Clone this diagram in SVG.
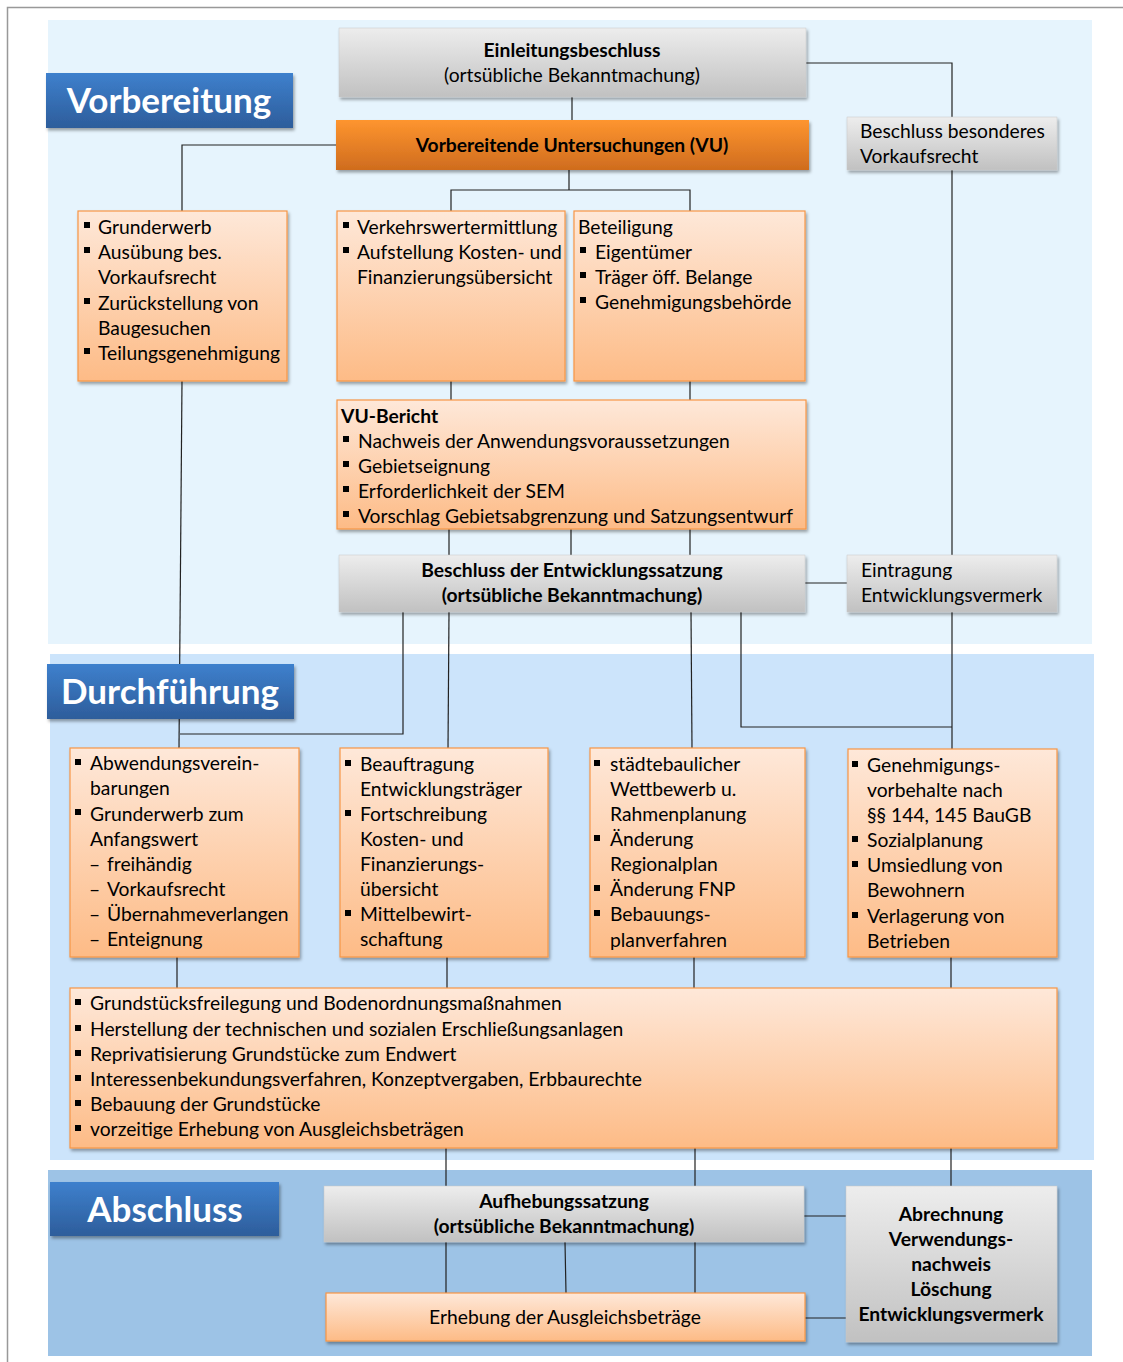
<svg xmlns="http://www.w3.org/2000/svg" width="1123" height="1362" viewBox="0 0 1123 1362">
<defs>
<linearGradient id="gGray" x1="0" y1="0" x2="0" y2="1"><stop offset="0" stop-color="#ededed"/><stop offset="1" stop-color="#c1c1c1"/></linearGradient>
<linearGradient id="gPeach" x1="0" y1="0" x2="0" y2="1"><stop offset="0" stop-color="#fee8d9"/><stop offset="1" stop-color="#fdbb86"/></linearGradient>
<linearGradient id="gOrange" x1="0" y1="0" x2="0" y2="1"><stop offset="0" stop-color="#fe952f"/><stop offset="1" stop-color="#cf6c1e"/></linearGradient>
<linearGradient id="gBlue" x1="0" y1="0" x2="0" y2="1"><stop offset="0" stop-color="#3e80cd"/><stop offset="1" stop-color="#2d5d9b"/></linearGradient>
<filter id="sh" x="-5%" y="-10%" width="112%" height="125%"><feDropShadow dx="1.5" dy="2.5" stdDeviation="1.5" flood-color="#000" flood-opacity="0.35"/></filter>
<rect id="b" width="6" height="6" fill="#000"/>
</defs>
<style>
.t{font-family:Lato,"Liberation Sans",sans-serif;font-size:19.3px;fill:#000}
.bd{font-weight:bold}
.c{text-anchor:middle}
.title{font-family:Lato,"Liberation Sans",sans-serif;font-size:35px;font-weight:bold;fill:#fff;text-anchor:middle}
.gray{fill:url(#gGray);stroke:#c8c8c8;stroke-width:0.5;filter:url(#sh)}
.peach{fill:url(#gPeach);stroke:#f79646;stroke-width:1.2;filter:url(#sh)}
.orange{fill:url(#gOrange);filter:url(#sh)}
.blue{fill:url(#gBlue);filter:url(#sh)}
.ln{fill:none;stroke:#222;stroke-width:1.2}
</style>
<!-- frame -->
<path d="M7.5 1362 V7.5 H1123" fill="none" stroke="#999" stroke-width="1.5"/>
<!-- panels -->
<rect x="48" y="20" width="1044" height="624" fill="#e6f4fd"/>
<rect x="50" y="654" width="1044" height="506" fill="#cce4fb"/>
<rect x="48" y="1170" width="1044" height="186" fill="#9dc3e6"/>

<g id="connectors" class="ln">
<path d="M572 97 V120"/>
<path d="M806 63 H952 V117"/>
<path d="M952 170 V555"/>
<path d="M952 612 V749"/>
<path d="M741 612 V727 H952"/>
<path d="M336 145 H182 V211"/>
<path d="M182 381 L179 748"/>
<path d="M403 612 V734 H180"/>
<path d="M569 170 V190 M451 211 V190 H690 V211"/>
<path d="M451 381 V400 M690 381 V400"/>
<path d="M449 529 V555 M571 529 V555 M690 529 V555"/>
<path d="M449 612 L448 748"/>
<path d="M691 612 L692 748"/>
<path d="M805 583 H847"/>
<path d="M177 957 V988 M447 957 V988 M694 957 V988 M951 957 V988"/>
<path d="M446 1148 V1186 M695 1148 V1186 M951 1148 V1186"/>
<path d="M446 1242 V1293 M565 1242 L566 1293 M695 1242 V1293"/>
<path d="M804 1216 H846 M805 1318 H846"/>
</g>

<g id="title-vorbereitung"><rect class="blue" x="46" y="73" width="247" height="55"/><text class="title" x="169" y="113">Vorbereitung</text></g>
<g id="title-durchfuehrung"><rect class="blue" x="47" y="664" width="247" height="55"/><text class="title" x="170" y="704">Durchführung</text></g>
<g id="title-abschluss"><rect class="blue" x="50" y="1182" width="229" height="54"/><text class="title" x="165" y="1222">Abschluss</text></g>

<g id="einleitungsbeschluss"><rect class="gray" x="339" y="28" width="467" height="69"/>
<text class="t bd c" x="572" y="57">Einleitungsbeschluss</text>
<text class="t c" x="572" y="82">(ortsübliche Bekanntmachung)</text></g>

<g id="vu"><rect class="orange" x="336" y="120" width="473" height="50"/>
<text class="t bd c" x="572" y="152">Vorbereitende Untersuchungen (VU)</text></g>

<g id="beschluss-vorkaufsrecht"><rect class="gray" x="847" y="117" width="210" height="53"/>
<text class="t" x="860" y="138">Beschluss besonderes</text>
<text class="t" x="860" y="163">Vorkaufsrecht</text></g>

<g id="grunderwerb"><rect class="peach" x="78" y="211" width="209" height="170"/>
<use href="#b" x="84" y="222"/><use href="#b" x="84" y="247"/><use href="#b" x="84" y="298"/><use href="#b" x="84" y="348"/>
<text class="t" x="98" y="234">Grunderwerb</text>
<text class="t" x="98" y="259">Ausübung bes.</text>
<text class="t" x="98" y="284">Vorkaufsrecht</text>
<text class="t" x="98" y="310">Zurückstellung von</text>
<text class="t" x="98" y="335">Baugesuchen</text>
<text class="t" x="98" y="360">Teilungsgenehmigung</text></g>

<g id="verkehrswert"><rect class="peach" x="337" y="211" width="228" height="170"/>
<use href="#b" x="343" y="222"/><use href="#b" x="343" y="247"/>
<text class="t" x="357" y="234">Verkehrswertermittlung</text>
<text class="t" x="357" y="259">Aufstellung Kosten- und</text>
<text class="t" x="357" y="284">Finanzierungsübersicht</text></g>

<g id="beteiligung"><rect class="peach" x="574" y="211" width="231" height="170"/>
<text class="t" x="578" y="234">Beteiligung</text>
<use href="#b" x="580" y="247"/><use href="#b" x="580" y="272"/><use href="#b" x="580" y="297"/>
<text class="t" x="595" y="259">Eigentümer</text>
<text class="t" x="595" y="284">Träger öff. Belange</text>
<text class="t" x="595" y="309">Genehmigungsbehörde</text></g>

<g id="vu-bericht"><rect class="peach" x="337" y="400" width="469" height="129"/>
<text class="t bd" x="341" y="423">VU-Bericht</text>
<use href="#b" x="343" y="436"/><use href="#b" x="343" y="461"/><use href="#b" x="343" y="486"/><use href="#b" x="343" y="511"/>
<text class="t" x="358" y="448">Nachweis der Anwendungsvoraussetzungen</text>
<text class="t" x="358" y="473">Gebietseignung</text>
<text class="t" x="358" y="498">Erforderlichkeit der SEM</text>
<text class="t" x="358" y="523">Vorschlag Gebietsabgrenzung und Satzungsentwurf</text></g>

<g id="entwicklungssatzung"><rect class="gray" x="339" y="555" width="466" height="57"/>
<text class="t bd c" x="572" y="577">Beschluss der Entwicklungssatzung</text>
<text class="t bd c" x="572" y="602">(ortsübliche Bekanntmachung)</text></g>

<g id="eintragung"><rect class="gray" x="847" y="555" width="210" height="57"/>
<text class="t" x="861" y="577">Eintragung</text>
<text class="t" x="861" y="602">Entwicklungsvermerk</text></g>

<g id="abwendung"><rect class="peach" x="70" y="748" width="229" height="209"/>
<use href="#b" x="75" y="759"/><use href="#b" x="75" y="809"/>
<text class="t" x="90" y="770">Abwendungsverein-</text>
<text class="t" x="90" y="795">barungen</text>
<text class="t" x="90" y="821">Grunderwerb zum</text>
<text class="t" x="90" y="846">Anfangswert</text>
<text class="t" x="89" y="871">–</text><text class="t" x="107" y="871">freihändig</text>
<text class="t" x="89" y="896">–</text><text class="t" x="107" y="896">Vorkaufsrecht</text>
<text class="t" x="89" y="921">–</text><text class="t" x="107" y="921">Übernahmeverlangen</text>
<text class="t" x="89" y="946">–</text><text class="t" x="107" y="946">Enteignung</text></g>

<g id="beauftragung"><rect class="peach" x="340" y="748" width="208" height="209"/>
<use href="#b" x="345" y="760"/><use href="#b" x="345" y="810"/><use href="#b" x="345" y="910"/>
<text class="t" x="360" y="771">Beauftragung</text>
<text class="t" x="360" y="796">Entwicklungsträger</text>
<text class="t" x="360" y="821">Fortschreibung</text>
<text class="t" x="360" y="846">Kosten- und</text>
<text class="t" x="360" y="871">Finanzierungs-</text>
<text class="t" x="360" y="896">übersicht</text>
<text class="t" x="360" y="921">Mittelbewirt-</text>
<text class="t" x="360" y="946">schaftung</text></g>

<g id="wettbewerb"><rect class="peach" x="590" y="748" width="215" height="209"/>
<use href="#b" x="594" y="760"/><use href="#b" x="594" y="835"/><use href="#b" x="594" y="885"/><use href="#b" x="594" y="910"/>
<text class="t" x="610" y="771">städtebaulicher</text>
<text class="t" x="610" y="796">Wettbewerb u.</text>
<text class="t" x="610" y="821">Rahmenplanung</text>
<text class="t" x="610" y="846">Änderung</text>
<text class="t" x="610" y="871">Regionalplan</text>
<text class="t" x="610" y="896">Änderung FNP</text>
<text class="t" x="610" y="921">Bebauungs-</text>
<text class="t" x="610" y="947">planverfahren</text></g>

<g id="genehmigung"><rect class="peach" x="848" y="749" width="209" height="208"/>
<use href="#b" x="852" y="761"/><use href="#b" x="852" y="836"/><use href="#b" x="852" y="861"/><use href="#b" x="852" y="912"/>
<text class="t" x="867" y="772">Genehmigungs-</text>
<text class="t" x="867" y="797">vorbehalte nach</text>
<text class="t" x="867" y="822">§§ 144, 145 BauGB</text>
<text class="t" x="867" y="847">Sozialplanung</text>
<text class="t" x="867" y="872">Umsiedlung von</text>
<text class="t" x="867" y="897">Bewohnern</text>
<text class="t" x="867" y="923">Verlagerung von</text>
<text class="t" x="867" y="948">Betrieben</text></g>

<g id="freilegung"><rect class="peach" x="70" y="988" width="987" height="160"/>
<use href="#b" x="75" y="999"/><use href="#b" x="75" y="1025"/><use href="#b" x="75" y="1050"/><use href="#b" x="75" y="1075"/><use href="#b" x="75" y="1100"/><use href="#b" x="75" y="1125"/>
<text class="t" x="90" y="1010">Grundstücksfreilegung und Bodenordnungsmaßnahmen</text>
<text class="t" x="90" y="1036">Herstellung der technischen und sozialen Erschließungsanlagen</text>
<text class="t" x="90" y="1061">Reprivatisierung Grundstücke zum Endwert</text>
<text class="t" x="90" y="1086">Interessenbekundungsverfahren, Konzeptvergaben, Erbbaurechte</text>
<text class="t" x="90" y="1111">Bebauung der Grundstücke</text>
<text class="t" x="90" y="1136">vorzeitige Erhebung von Ausgleichsbeträgen</text></g>

<g id="aufhebungssatzung"><rect class="gray" x="324" y="1186" width="480" height="56"/>
<text class="t bd c" x="564" y="1208">Aufhebungssatzung</text>
<text class="t bd c" x="564" y="1233">(ortsübliche Bekanntmachung)</text></g>

<g id="erhebung"><rect class="peach" x="326" y="1293" width="479" height="48"/>
<text class="t c" x="565" y="1324">Erhebung der Ausgleichsbeträge</text></g>

<g id="abrechnung"><rect class="gray" x="846" y="1186" width="211" height="156"/>
<text class="t bd c" x="951" y="1221">Abrechnung</text>
<text class="t bd c" x="951" y="1246">Verwendungs-</text>
<text class="t bd c" x="951" y="1271">nachweis</text>
<text class="t bd c" x="951" y="1296">Löschung</text>
<text class="t bd c" x="951" y="1321">Entwicklungsvermerk</text></g>
</svg>
